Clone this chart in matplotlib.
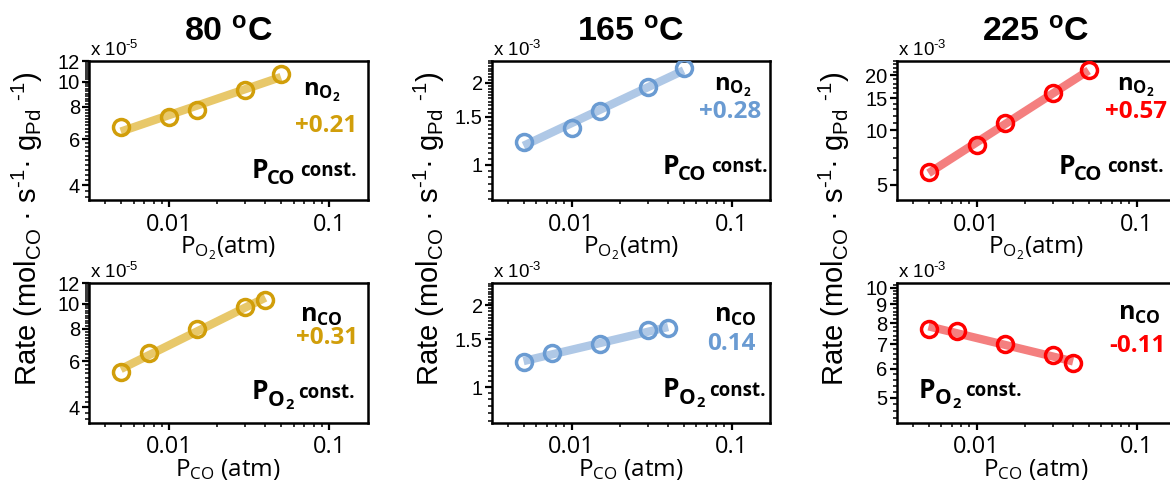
import numpy as np
import matplotlib
matplotlib.use("Agg")
import matplotlib.pyplot as plt
from matplotlib.ticker import FixedLocator, NullFormatter, LogLocator, FuncFormatter

plt.rcParams['mathtext.fontset'] = 'custom'
plt.rcParams['mathtext.rm'] = 'Liberation Sans'
plt.rcParams['mathtext.it'] = 'Liberation Sans:bold'
plt.rcParams['mathtext.bf'] = 'Open Sans:bold'
plt.rcParams['mathtext.sf'] = 'Open Sans'

# ---------------- data ----------------
temperatures = ["80", "165", "225"]
p_o2 = [0.005, 0.01, 0.015, 0.03, 0.05]        # atm (P_CO const.)
p_co = [0.005, 0.0075, 0.015, 0.03, 0.04]      # atm (P_O2 const.)
rate_80_o2 = [6.67, 7.30, 7.78, 9.29, 10.74]   # x 1e-5
rate_80_co = [5.47, 6.49, 7.96, 9.71, 10.37]   # x 1e-5
rate_165_o2 = [1.217, 1.363, 1.571, 1.923, 2.26]  # x 1e-3
rate_165_co = [1.236, 1.335, 1.445, 1.617, 1.651]  # x 1e-3
rate_225_o2 = [5.88, 8.26, 11.0, 15.95, 21.3]  # x 1e-3
rate_225_co = [7.73, 7.62, 7.00, 6.53, 6.22]   # x 1e-3
scale_exp = ["-5", "-3", "-3"]
order_o2 = ["+0.21", "+0.28", "+0.57"]
order_co = ["+0.31", "0.14", "-0.11"]
yticks_top = [[4, 6, 8, 10, 12], [1, 1.5, 2], [5, 10, 15, 20]]
yticks_bot = [[4, 6, 8, 10, 12], [1, 1.5, 2], [5, 6, 7, 8, 9, 10]]

# ---------------- style ----------------
marker_colors = ['#D19E0A', '#6A9BD2', '#FF0000']
line_colors = ['#E8C86A', '#AFC8E6', '#F47F7F']
ylims_top = [(3.5, 12), (0.74, 2.4), (4.1, 24)]
ylims_bot = [(3.5, 12), (0.74, 2.42), (4.28, 10.3)]
minor_top = [0.2, 0.05, 1.0]
minor_bot = [0.2, 0.05, 0.2]

W, H = 1170, 486
fig = plt.figure(figsize=(W / 100, H / 100), dpi=100)
col_left = [89, 491.7, 896.7]
ax_w = 278.5
row_top = [61, 283]
ax_h = 139.5

rates_top = [rate_80_o2, rate_165_o2, rate_225_o2]
rates_bot = [rate_80_co, rate_165_co, rate_225_co]

renderer = fig.canvas.get_renderer()


def make_ax(c, r):
    L = col_left[c]
    T = row_top[r]
    return fig.add_axes([L / W, 1 - (T + ax_h) / H, ax_w / W, ax_h / H])


def style_ax(ax, ylim, yt, mstep, exp, xlab):
    ax.set_xscale('log')
    ax.set_yscale('log')
    ax.set_xlim(10 ** -2.5, 10 ** -0.76)
    ax.set_ylim(*ylim)
    ax.set_xticks([0.01, 0.1])
    ax.set_xticklabels(['0.01', '0.1'])
    ax.xaxis.set_minor_locator(LogLocator(base=10, subs=np.arange(2, 10)))
    ax.xaxis.set_minor_formatter(NullFormatter())
    ax.yaxis.set_major_locator(FixedLocator(yt))
    ax.yaxis.set_major_formatter(FuncFormatter(lambda v, p: '%g' % v))
    mins = np.arange(np.ceil(ylim[0] / mstep) * mstep, ylim[1] + 1e-9, mstep)
    ax.yaxis.set_minor_locator(FixedLocator(mins))
    ax.yaxis.set_minor_formatter(NullFormatter())
    for s in ax.spines.values():
        s.set_linewidth(1.8)
    ax.tick_params(which='major', direction='out', length=5, width=1.6, pad=1.5)
    ax.tick_params(which='minor', direction='out', length=3, width=1.1)
    for lab in ax.get_xticklabels():
        lab.set_fontfamily('Open Sans')
        lab.set_fontsize(17)
    for lab in ax.get_yticklabels():
        lab.set_fontfamily('Liberation Sans')
        lab.set_fontsize(14.5)
    ax.tick_params(axis='x', pad=4)
    ax.text(0.005, 1.035, r'x 10$^{\text{%s}}$' % exp, transform=ax.transAxes,
            fontfamily='Liberation Sans', fontsize=13.5, ha='left', va='baseline')
    ax.text(0.5, -(53 / ax_h), xlab, transform=ax.transAxes,
            fontfamily='Open Sans', fontsize=17.5, ha='center', va='baseline')


def plot_series(ax, x, y, c):
    lx, ly = np.log10(x), np.log10(y)
    k, b = np.polyfit(lx, ly, 1)
    xf = np.array([x[0], x[-1]])
    ax.plot(xf, 10 ** (k * np.log10(xf) + b), color=line_colors[c], lw=6,
            solid_capstyle='butt', zorder=2)
    ax.plot(x, y, 'o', mfc='none', mec=marker_colors[c], ms=11.5, mew=2.5, zorder=3)


def pieces(ax, items, x_frac, y_frac, align):
    """items: (text, fontsize, dy_px, gap_before_px)"""
    arts, widths = [], []
    for txt, fs, dy, gap in items:
        t = ax.text(0, 0, txt, transform=ax.transAxes, fontfamily='Open Sans',
                    fontweight='bold', fontsize=fs, ha='left', va='baseline')
        arts.append(t)
        widths.append(t.get_window_extent(renderer).width)
    total = sum(widths) + sum(it[3] for it in items)
    x0 = x_frac * ax_w
    if align == 'right':
        x0 -= total
    xc = x0
    for t, w, (txt, fs, dy, gap) in zip(arts, widths, items):
        xc += gap
        t.set_position((xc / ax_w, y_frac + dy / ax_h))
        xc += w


def const_items(sub):
    if sub == 'CO':
        return [('P', 19, 0, 0), ('CO', 14.5, -6.5, -1.5), ('const.', 13.5, 1.5, 5)]
    return [('P', 19, 0, 0), ('O', 15, -6.5, 0), ('2', 10.5, -10, 0.5), ('const.', 13.5, 1.5, 5)]


# annotation positions (axes fractions)
n_top_pos = [(0.835, 0.755), (0.866, 0.791), (0.857, 0.791)]
v_top_pos = [(0.963, 0.491), (0.967, 0.588), (0.969, 0.588)]
c_top_pos = [(0.962, 0.163), (0.99, 0.192), (0.958, 0.192)]
n_bot_pos = [(0.833, 0.721), (0.875, 0.724), (0.872, 0.735)]
v_bot_pos = [(0.965, 0.562), (0.948, 0.522), (0.967, 0.506)]
c_bot_pos = [(0.956, 0.167, 'right'), (0.985, 0.18, 'right'), (0.078, 0.176, 'left')]

for c in range(3):
    # top row: P_O2 varied
    ax = make_ax(c, 0)
    style_ax(ax, ylims_top[c], yticks_top[c], minor_top[c], scale_exp[c],
             r'P$_{\mathsf{O_2}}$(atm)')
    plot_series(ax, p_o2, rates_top[c], c)
    ax.text(0.5, 1 + 19 / ax_h, temperatures[c] + r' $^{\mathit{o}}$C', transform=ax.transAxes,
            fontfamily='Liberation Sans', fontweight='bold', fontsize=24.5,
            ha='center', va='baseline')
    ax.text(*n_top_pos[c], r'$\mathbf{n_{O_2}}$', transform=ax.transAxes,
            fontsize=17, ha='center', va='baseline')
    ax.text(*v_top_pos[c], order_o2[c], transform=ax.transAxes, fontfamily='Open Sans',
            fontweight='bold', fontsize=17.5, color=marker_colors[c], ha='right', va='baseline')
    pieces(ax, const_items('CO'), c_top_pos[c][0], c_top_pos[c][1], 'right')

    # bottom row: P_CO varied
    ax = make_ax(c, 1)
    style_ax(ax, ylims_bot[c], yticks_bot[c], minor_bot[c], scale_exp[c],
             r'P$_{\mathsf{CO}}$ (atm)')
    plot_series(ax, p_co, rates_bot[c], c)
    ax.text(*n_bot_pos[c], r'$\mathbf{n_{CO}}$', transform=ax.transAxes,
            fontsize=18, ha='center', va='baseline')
    ax.text(*v_bot_pos[c], order_co[c], transform=ax.transAxes, fontfamily='Open Sans',
            fontweight='bold', fontsize=17.5, color=marker_colors[c], ha='right', va='baseline')
    pieces(ax, const_items('O2'), c_bot_pos[c][0], c_bot_pos[c][1], c_bot_pos[c][2])

    # y label per column
    fig.text((col_left[c] - 62) / W, 1 - 229 / H,
             r'Rate (mol$_{\mathrm{CO}}$ · s$^{\text{-1}}$· g$_{\mathrm{Pd}}$ $^{\text{-1}}$)',
             rotation=90, fontfamily='Liberation Sans', fontsize=21,
             ha='center', va='center')

fig.savefig('out.png', dpi=100)
